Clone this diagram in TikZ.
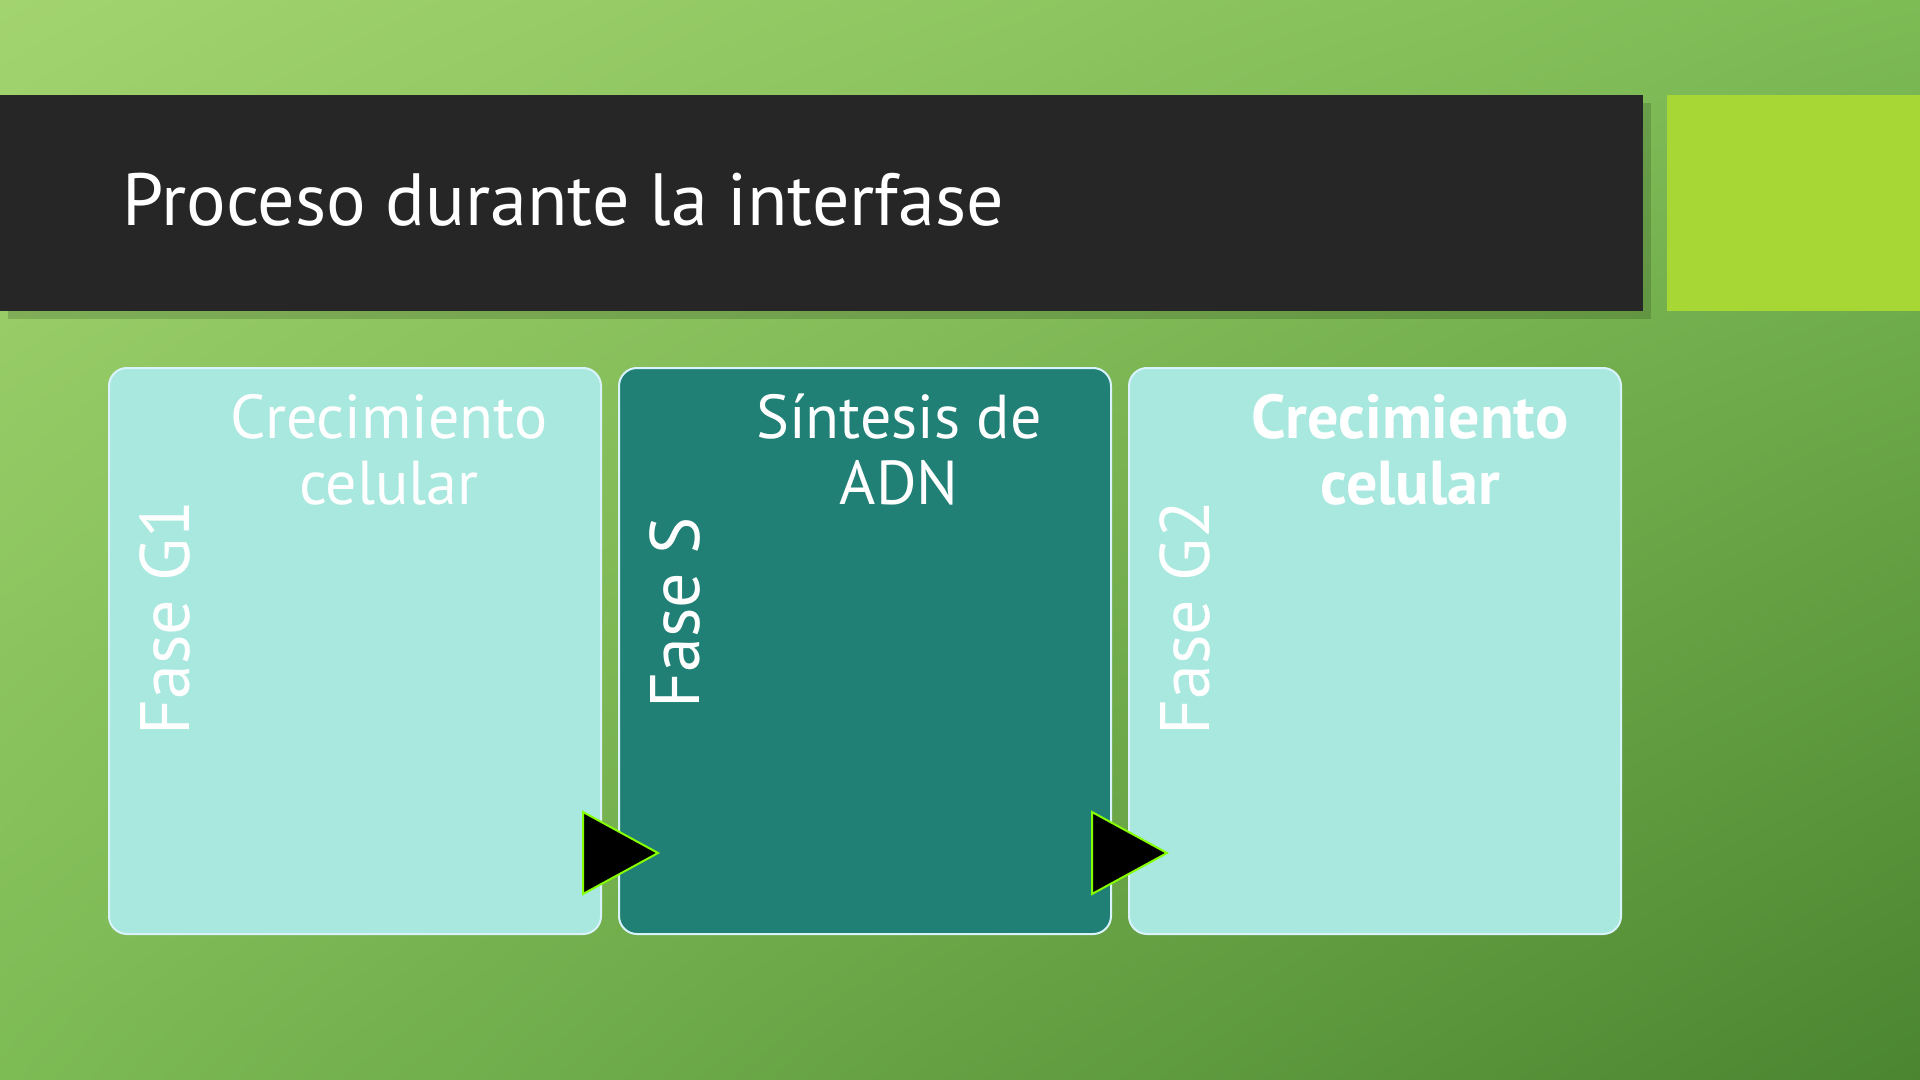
\documentclass[tikz,border=0pt]{standalone}
\usepackage{fontspec}
\setmainfont{PT Sans}
\usetikzlibrary{shadings}
\begin{document}
\begin{tikzpicture}[x=0.5pt,y=-0.5pt,
  phase/.style={draw=white!85!cyan,line width=1pt,rounded corners=9pt,minimum width=246pt,minimum height=283pt,anchor=north west,inner sep=0pt},
  light/.style={phase,fill=lightbox},
  dark/.style={phase,fill=darkbox},
  vlab/.style={rotate=90,text=white,font=\fontsize{35}{40}\selectfont},
  hlab/.style={text=white,align=center,font=\fontsize{31}{33}\selectfont},
  tri/.style={fill=black,draw=lime!70!green,line width=1pt}]
\definecolor{lightbox}{HTML}{A8E8DF}
\definecolor{darkbox}{HTML}{208075}
\definecolor{bgA}{HTML}{A2D36E}
\definecolor{bgB}{HTML}{4B8530}
\definecolor{bgC}{HTML}{7DBB55}
\definecolor{barc}{HTML}{262626}
\definecolor{sq}{HTML}{A6D734}
\useasboundingbox (0,0) rectangle (1920,1080);
\shade[upper left=bgA,upper right=bgC,lower left=bgC,lower right=bgB] (0,0) rectangle (1920,1080);
\fill[black,opacity=0.15] (8,103) rectangle (1651,319);
\fill[barc] (0,95) rectangle (1643,311);
\fill[sq] (1667,95) rectangle (1920,311);
\node[anchor=base west,text=white,font=\fontsize{37}{40}\selectfont,inner sep=0pt] (title) at (122,226) {Proceso durante la interfase};
\node[light] (b1) at (108,367) {};
\node[dark] (b2) at (618,367) {};
\node[light] (b3) at (1128,367) {};
\node[vlab] (v1) at (165,618) {Fase G1};
\node[vlab] (v2) at (675,613) {Fase S};
\node[vlab] (v3) at (1185,618) {Fase G2};
\node[hlab] (h1) at (389,450) {Crecimiento\\celular};
\node[hlab] (h2) at (899,450) {Síntesis de\\ADN};
\node[hlab,font=\bfseries\fontsize{31}{33}\selectfont] (h3) at (1410,450) {Crecimiento\\celular};
\draw[tri] (583,812) -- (658,853) -- (583,894) -- cycle;
\draw[tri] (1092,812) -- (1167,853) -- (1092,894) -- cycle;
\end{tikzpicture}
\end{document}
